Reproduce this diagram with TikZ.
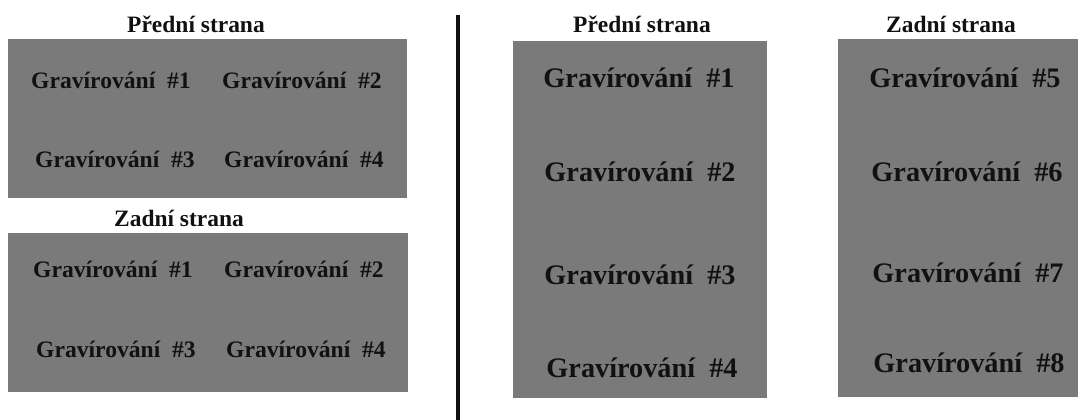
\documentclass[tikz,border=0pt]{standalone}
\usepackage{fontspec}
\setmainfont{Liberation Serif}
\definecolor{panelgray}{HTML}{7A7A7A}
\definecolor{inkblack}{HTML}{111111}
\begin{document}
\begin{tikzpicture}[x=0.75pt,y=-0.75pt,
  panel/.style={fill=panelgray},
  heading/.style={anchor=base,inner sep=0pt,text=inkblack,font=\bfseries\fontsize{17.6}{20}\selectfont},
  smalllabel/.style={anchor=base,inner sep=0pt,text=inkblack,font=\bfseries\fontsize{17.7}{20}\selectfont},
  biglabel/.style={anchor=base,inner sep=0pt,text=inkblack,font=\bfseries\fontsize{21.2}{24}\selectfont}]
\useasboundingbox (0,0) rectangle (1078,420);

% two-sided layout, left half
\fill[panel] (8,39) rectangle (407,198);
\fill[panel] (8,233) rectangle (408,392);
\node[heading] (lfront) at (196,33) {Přední strana};
\node[heading] (lback) at (179,227) {Zadní strana};
\node[smalllabel] (lf1) at (111,89) {Gravírování\ \ \#1};
\node[smalllabel] (lf2) at (302,89) {Gravírování\ \ \#2};
\node[smalllabel] (lf3) at (115,168) {Gravírování\ \ \#3};
\node[smalllabel] (lf4) at (304,168) {Gravírování\ \ \#4};
\node[smalllabel] (lb1) at (113,277) {Gravírování\ \ \#1};
\node[smalllabel] (lb2) at (304,277) {Gravírování\ \ \#2};
\node[smalllabel] (lb3) at (116,357) {Gravírování\ \ \#3};
\node[smalllabel] (lb4) at (306,357) {Gravírování\ \ \#4};

% divider
\coordinate (divtop) at (458,15);
\coordinate (divbot) at (458,420);
\draw[line width=3pt,inkblack] (divtop) -- (divbot);

% single-column layout, right half
\fill[panel] (513,41) rectangle (767,398);
\fill[panel] (838,39) rectangle (1078,397);
\node[heading] (rfront) at (642,33) {Přední strana};
\node[heading] (rback) at (951,33) {Zadní strana};
\node[biglabel] (rf1) at (639,88) {Gravírování\ \ \#1};
\node[biglabel] (rf2) at (640,182) {Gravírování\ \ \#2};
\node[biglabel] (rf3) at (640,285) {Gravírování\ \ \#3};
\node[biglabel] (rf4) at (642,377) {Gravírování\ \ \#4};
\node[biglabel] (rb5) at (965,88) {Gravírování\ \ \#5};
\node[biglabel] (rb6) at (967,182) {Gravírování\ \ \#6};
\node[biglabel] (rb7) at (968,283) {Gravírování\ \ \#7};
\node[biglabel] (rb8) at (969,373) {Gravírování\ \ \#8};
\end{tikzpicture}
\end{document}
